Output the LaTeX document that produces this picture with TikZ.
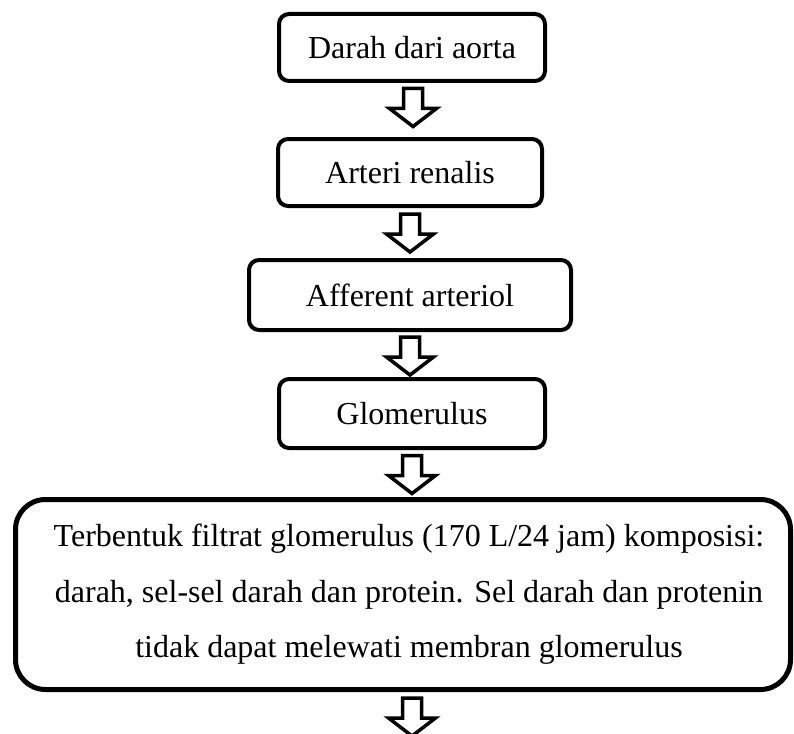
\documentclass[tikz,border=0pt]{standalone}
\usepackage{fontspec}
\setmainfont{Liberation Serif}
\usetikzlibrary{calc}
\tikzset{
  box/.style={draw=black, line width=4pt, rounded corners=10pt, fill=white,
    font=\fontsize{32}{55.5}\selectfont, inner sep=0pt, align=center},
  bigbox/.style={box, line width=5pt, rounded corners=30pt},
  arrowline/.style={draw=black, line width=3.5pt, fill=white, line join=miter},
  downarrow/.pic={\path[arrowline] (-9.5,0) -- (9.5,0) -- (9.5,20) -- (23.5,20) -- (0,38) -- (-23.5,20) -- (-9.5,20) -- cycle;}
}
\begin{document}
\begin{tikzpicture}[x=1pt,y=-1pt]
\useasboundingbox (0,0) rectangle (794,733);
\clip (0,0) rectangle (794,733);
\node[box, minimum width=266pt, minimum height=67pt] (b1) at (412,47.5) {Darah dari aorta};
\node[box, minimum width=264pt, minimum height=67pt] (b2) at (410,172.5) {Arteri renalis};
\node[box, minimum width=322pt, minimum height=70pt] (b3) at (410,295) {Afferent arteriol};
\node[box, minimum width=266pt, minimum height=69pt] (b4) at (412,413.5) {Glomerulus};
\node[bigbox, minimum width=775pt, minimum height=190pt] (b5) at (403,594.5)
  {\hspace*{12pt}Terbentuk filtrat glomerulus (170 L/24 jam) komposisi:\\
   \hspace*{12pt}darah, sel-sel darah dan protein. Sel darah dan protenin\\
   \hspace*{12pt}tidak dapat melewati membran glomerulus};
\pic at ($(b1.south)+(1,5.5)$) {downarrow};
\pic at ($(b2.south)+(0,6)$) {downarrow};
\pic at ($(b3.south)+(0,5)$) {downarrow};
\pic at ($(b4.south)+(0,5.5)$) {downarrow};
\coordinate (end) at ($(b5.south)+(9,6)$);
\pic at (end) {downarrow};
\end{tikzpicture}
\end{document}
